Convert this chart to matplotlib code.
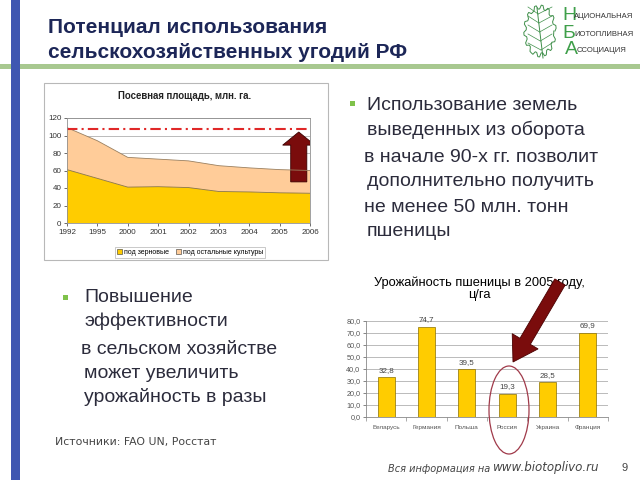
import matplotlib
matplotlib.use('Agg')
import matplotlib.pyplot as plt
import matplotlib.patches as mpatches
from matplotlib.ticker import FuncFormatter
import numpy as np

W, H = 640, 480

# --- area chart data (sown area, mln ha) ---
years = ['1992', '1995', '2000', '2001', '2002', '2003', '2004', '2005', '2006']
grain = [61, 51, 41, 41.5, 40.5, 36, 35.5, 34.5, 34]
other = [48, 43, 34, 31.5, 30.5, 29.5, 27.5, 26.5, 26]
level_1992 = 108
area_title = 'Посевная площадь, млн. га.'
area_legend = ['под зерновые', 'под остальные культуры']

# --- bar chart data (wheat yield 2005, c/ha) ---
countries = ['Беларусь', 'Германия', 'Польша', 'Россия', 'Украина', 'Франция']
yield_2005 = [32.8, 74.7, 39.5, 19.3, 28.5, 69.9]
bar_title = 'Урожайность пшеницы в 2005 году,\nц/га'

title = 'Потенциал использования\nсельскохозяйственных угодий РФ'
right_lines = [('Использование земель', 367, 106), ('выведенных из оборота', 367, 130),
               ('в начале 90-х гг. позволит', 364, 157), ('дополнительно получить', 367, 181),
               ('не менее 50 млн. тонн', 364, 208), ('пшеницы', 367, 232)]
left_lines = [('Повышение', 84, 297), ('эффективности', 84, 321),
              ('в сельском хозяйстве', 81, 349), ('может увеличить', 84, 373),
              ('урожайность в разы', 84, 397)]

plt.rcParams['font.family'] = ['Liberation Sans', 'DejaVu Sans']
TXT = '#2c2c3c'


def px_rect(x0, y0, x1, y1):
    return [x0 / W, 1 - y1 / H, (x1 - x0) / W, (y1 - y0) / H]


def comma(v, pos=None):
    return '{:.1f}'.format(v).replace('.', ',')


fig = plt.figure(figsize=(6.4, 4.8), dpi=100)
fig.patch.set_facecolor('white')

# background layer in pixel coords
bg = fig.add_axes([0, 0, 1, 1])
bg.set_xlim(0, W)
bg.set_ylim(H, 0)
bg.axis('off')
bg.set_zorder(0)

bg.add_patch(mpatches.Rectangle((0, 63.5), W, 5, fc='#a8c890', ec='none'))
bg.add_patch(mpatches.Rectangle((11, 0), 9, H, fc='#3f57b1', ec='none'))
bg.text(48, 40, title, fontsize=15, weight='bold', color='#1c2657', va='center',
        linespacing=1.42)

# logo
t = np.linspace(0, 2 * np.pi, 60)
r = 1 + 0.08 * np.sign(np.sin(14 * t))
lx = 540 + 15 * r * np.cos(t)
ly = 31 - 24 * r * np.sin(t)
bg.plot(lx, ly, color='#3f8f4a', lw=0.7)
bg.plot([543, 537], [58, 8], color='#3f8f4a', lw=0.7)
for k in range(5):
    yy = 50 - k * 9
    bg.plot([541 - k * 0.7, 528], [yy, yy - 7], color='#3f8f4a', lw=0.5)
    bg.plot([541 - k * 0.7, 552], [yy, yy - 7], color='#3f8f4a', lw=0.5)
for big, small, yy, xx in [('Н', 'АЦИОНАЛЬНАЯ', 16, 562), ('Б', 'ИОТОПЛИВНАЯ', 33, 562),
                           ('А', 'ССОЦИАЦИЯ', 50, 565)]:
    bg.text(xx, yy, big, fontsize=14, color='#3f9f4a', va='center', weight='light')
    bg.text(xx + 12, yy + 1, small, fontsize=5.5, color='#333333', va='center')

# area chart frame + title
bg.add_patch(mpatches.Rectangle((44, 83), 284, 177, fc='white', ec='#b8b8b8', lw=0.8))
bg.text(185, 96, area_title, ha='center', va='center', fontsize=6.9, weight='bold',
        color='#222222')

# bullets
bg.add_patch(mpatches.Rectangle((350, 101), 4.5, 4.5, fc='#7fc24a', ec='none'))
for s, x, y in right_lines:
    bg.text(x, y, s, fontsize=14, color=TXT, va='center')
bg.add_patch(mpatches.Rectangle((63, 295), 4.5, 4.5, fc='#7fc24a', ec='none'))
for s, x, y in left_lines:
    bg.text(x, y, s, fontsize=14, color=TXT, va='center')

bg.text(55, 442, 'Источники: FAO UN, Росстат', fontsize=7.8, color='#444444',
        va='center', family='DejaVu Sans')
bg.text(388, 469, 'Вся информация на', fontsize=7, style='italic', color='#444444',
        va='center', family='DejaVu Sans')
bg.text(493, 468, 'www.biotoplivo.ru', fontsize=8.6, style='italic', color='#444444',
        va='center', family='DejaVu Sans')
bg.text(621, 468, '9', fontsize=8, color='#444444', va='center')

bg.text(479, 289, bar_title, ha='center', va='center', fontsize=9.3, color='black',
        linespacing=1.05)

# --- area chart ---
ax1 = fig.add_axes(px_rect(67, 118, 310, 223))
ax1.set_zorder(1)
x = np.arange(len(years))
total = np.array(grain) + np.array(other)
ax1.stackplot(x, grain, other, colors=['#ffcc00', '#ffcc99'], lw=0)
ax1.plot(x, grain, color='#8a7440', lw=0.6)
ax1.plot(x, total, color='#9a8060', lw=0.6)
ax1.axhline(level_1992, color='#e02828', lw=1.5, dashes=(5, 2, 1, 2))
ax1.set_xlim(0, len(years) - 1)
ax1.set_ylim(0, 120)
ax1.set_yticks(range(0, 121, 20))
ax1.set_xticks(x)
ax1.set_xticklabels(years)
ax1.grid(axis='y', color='#a0a0a0', lw=0.5)
ax1.set_axisbelow(True)
for sp in ax1.spines.values():
    sp.set_color('#909090')
    sp.set_linewidth(0.6)
ax1.tick_params(labelsize=5.8, colors='#333333', length=2, width=0.5, pad=2)
ax1.add_patch(mpatches.FancyArrow(7.63, 47, 0, 57, width=0.53, head_width=1.06,
                                  head_length=15, length_includes_head=True,
                                  fc='#7a0c0c', ec='#3a0000', lw=0.6))
handles = [mpatches.Patch(fc='#ffcc00', ec='#333333', lw=0.4),
           mpatches.Patch(fc='#ffcc99', ec='#333333', lw=0.4)]
ax1.legend(handles, area_legend, loc='center', bbox_to_anchor=(0.506, -0.28), ncol=2,
           fontsize=5, frameon=True, fancybox=False, edgecolor='#a0a0a0',
           handlelength=0.7, handleheight=0.7, columnspacing=1.0, borderpad=0.3,
           handletextpad=0.3).get_frame().set_linewidth(0.5)

# --- bar chart ---
ax2 = fig.add_axes(px_rect(366, 320.7, 608, 416.7))
ax2.set_zorder(1)
x2 = np.arange(len(countries))
ax2.bar(x2, yield_2005, width=0.42, color='#ffcc00', edgecolor='#8a7000', lw=0.5)
for i, v in enumerate(yield_2005):
    ax2.text(i, v + 3, comma(v), ha='center', va='bottom', fontsize=5.8, color='#444444')
ax2.set_xlim(-0.5, len(countries) - 0.5)
ax2.set_ylim(0, 80)
ax2.set_yticks(range(0, 81, 10))
ax2.yaxis.set_major_formatter(FuncFormatter(comma))
ax2.set_xticks(x2)
ax2.set_xticklabels(countries)
ax2.set_xticks(np.arange(len(countries) + 1) - 0.5, minor=True)
ax2.tick_params(axis='x', which='major', length=0, labelsize=4.6, colors='#555555', pad=6)
ax2.tick_params(axis='x', which='minor', length=3, width=0.5, color='#888888')
ax2.tick_params(axis='y', labelsize=5.2, colors='#555555', length=2, width=0.5, pad=2)
ax2.grid(axis='y', color='#a0a0a0', lw=0.5)
ax2.set_axisbelow(True)
for sp in ['top', 'right']:
    ax2.spines[sp].set_visible(False)
for sp in ['left', 'bottom']:
    ax2.spines[sp].set_color('#888888')
    ax2.spines[sp].set_linewidth(0.6)

# --- top overlay: pointer arrow and ellipse ---
top = fig.add_axes([0, 0, 1, 1])
top.set_xlim(0, W)
top.set_ylim(H, 0)
top.axis('off')
top.set_zorder(5)
top.patch.set_alpha(0)
top.add_patch(mpatches.Ellipse((509, 410), 40, 88, fill=False, ec='#a03a4a', lw=0.9))
top.add_patch(mpatches.FancyArrow(560, 282, -47, 80, width=12, head_width=30,
                                  head_length=24, length_includes_head=True,
                                  fc='#7a0c0c', ec='#4a0000', lw=0.6))

fig.savefig('out.png', dpi=100)
